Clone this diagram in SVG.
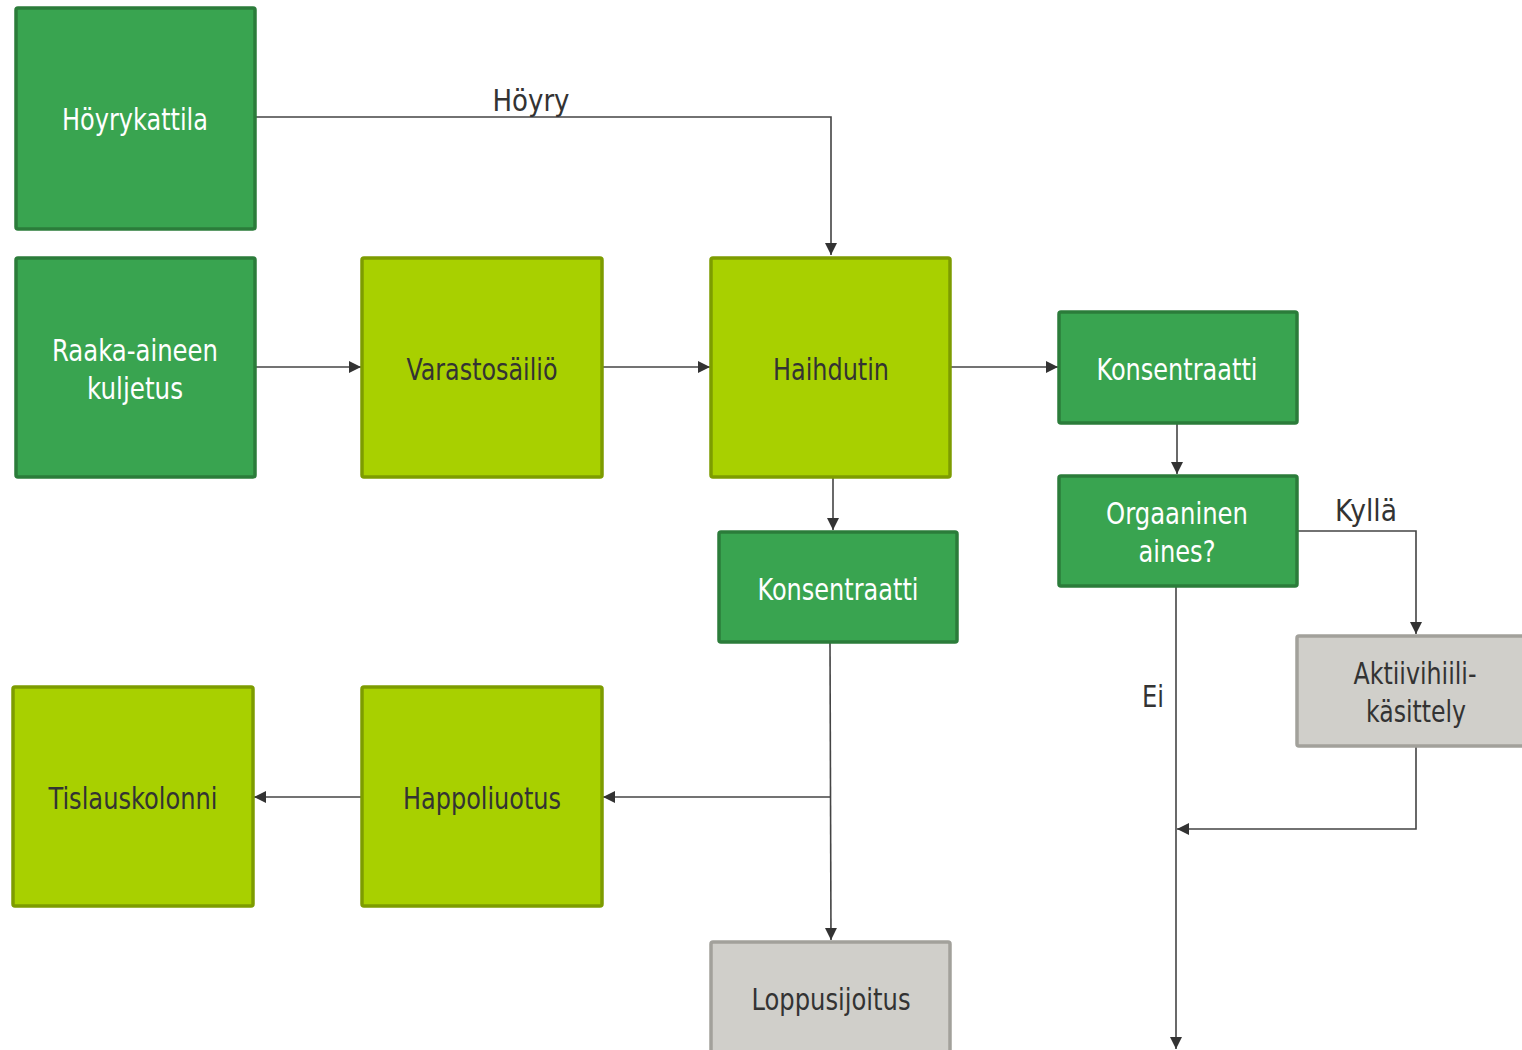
<svg xmlns="http://www.w3.org/2000/svg" width="1522" height="1050" viewBox="0 0 1522 1050">
<defs>
<style>
.dg{fill:#39a450;stroke:#2b7c3a;stroke-width:3.5}
.lm{fill:#a8d000;stroke:#7d9c00;stroke-width:3.5}
.gr{fill:#d0cfca;stroke:#a2a19b;stroke-width:3.5}
text{font-family:"DejaVu Sans Condensed","DejaVu Sans",sans-serif;font-size:31px;text-anchor:middle}
.w{fill:#ffffff}
.k{fill:#333333}
.c{fill:none;stroke:#444444;stroke-width:1.6}
</style>
<marker id="ah" viewBox="0 0 10 10" refX="10" refY="5" markerWidth="12" markerHeight="12" markerUnits="userSpaceOnUse" orient="auto">
<path d="M0,0 L10,5 L0,10 z" fill="#333333"/>
</marker>
</defs>
<rect width="1522" height="1050" fill="#ffffff"/>
<g id="connectors">
<path class="c" d="M255,117 H831 V255" marker-end="url(#ah)"/>
<path class="c" d="M255,367 H361" marker-end="url(#ah)"/>
<path class="c" d="M602,367 H710" marker-end="url(#ah)"/>
<path class="c" d="M950,367 H1058" marker-end="url(#ah)"/>
<path class="c" d="M833,477 V530" marker-end="url(#ah)"/>
<path class="c" d="M1177,423 V474" marker-end="url(#ah)"/>
<path class="c" d="M1297,531 H1416 V634" marker-end="url(#ah)"/>
<path class="c" d="M1176,586 V1049" marker-end="url(#ah)"/>
<path class="c" d="M1416,746 V829 H1177" marker-end="url(#ah)"/>
<path class="c" d="M830,642 L831,940" marker-end="url(#ah)"/>
<path class="c" d="M831,797 H603" marker-end="url(#ah)"/>
<path class="c" d="M362,797 H254" marker-end="url(#ah)"/>
<text class="k" x="531" y="111" textLength="77" lengthAdjust="spacingAndGlyphs">Höyry</text>
<text class="k" x="1366" y="521" textLength="62" lengthAdjust="spacingAndGlyphs">Kyllä</text>
<text class="k" x="1153" y="707" textLength="22" lengthAdjust="spacingAndGlyphs">Ei</text>
</g>
<g id="hoyrykattila">
<rect class="dg" x="16" y="8" width="239" height="221" rx="2"/>
<text class="w" x="135" y="130" textLength="146" lengthAdjust="spacingAndGlyphs">Höyrykattila</text>
</g>
<g id="raaka">
<rect class="dg" x="16" y="258" width="239" height="219" rx="2"/>
<text class="w" x="135" y="361" textLength="166" lengthAdjust="spacingAndGlyphs">Raaka-aineen</text>
<text class="w" x="135" y="399" textLength="96" lengthAdjust="spacingAndGlyphs">kuljetus</text>
</g>
<g id="varastosailio">
<rect class="lm" x="362" y="258" width="240" height="219" rx="2"/>
<text class="k" x="482" y="380" textLength="151" lengthAdjust="spacingAndGlyphs">Varastosäiliö</text>
</g>
<g id="haihdutin">
<rect class="lm" x="711" y="258" width="239" height="219" rx="2"/>
<text class="k" x="831" y="380" textLength="116" lengthAdjust="spacingAndGlyphs">Haihdutin</text>
</g>
<g id="konsentraatti1">
<rect class="dg" x="1059" y="312" width="238" height="111" rx="2"/>
<text class="w" x="1177" y="380" textLength="161" lengthAdjust="spacingAndGlyphs">Konsentraatti</text>
</g>
<g id="orgaaninen">
<rect class="dg" x="1059" y="476" width="238" height="110" rx="2"/>
<text class="w" x="1177" y="524" textLength="142" lengthAdjust="spacingAndGlyphs">Orgaaninen</text>
<text class="w" x="1177" y="562" textLength="77" lengthAdjust="spacingAndGlyphs">aines?</text>
</g>
<g id="konsentraatti2">
<rect class="dg" x="719" y="532" width="238" height="110" rx="2"/>
<text class="w" x="838" y="600" textLength="161" lengthAdjust="spacingAndGlyphs">Konsentraatti</text>
</g>
<g id="aktiivihiili">
<rect class="gr" x="1297" y="636" width="232" height="110" rx="2"/>
<text class="k" x="1415" y="684" textLength="123" lengthAdjust="spacingAndGlyphs">Aktiivihiili-</text>
<text class="k" x="1416" y="722" textLength="100" lengthAdjust="spacingAndGlyphs">käsittely</text>
</g>
<g id="tislauskolonni">
<rect class="lm" x="13" y="687" width="240" height="219" rx="2"/>
<text class="k" x="133" y="809" textLength="169" lengthAdjust="spacingAndGlyphs">Tislauskolonni</text>
</g>
<g id="happoliuotus">
<rect class="lm" x="362" y="687" width="240" height="219" rx="2"/>
<text class="k" x="482" y="809" textLength="158" lengthAdjust="spacingAndGlyphs">Happoliuotus</text>
</g>
<g id="loppusijoitus">
<rect class="gr" x="711" y="942" width="239" height="115" rx="2"/>
<text class="k" x="831" y="1010" textLength="159" lengthAdjust="spacingAndGlyphs">Loppusijoitus</text>
</g>
</svg>
